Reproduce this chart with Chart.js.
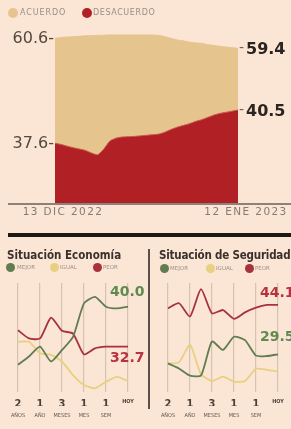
<!DOCTYPE html>
<html><head><meta charset="utf-8">
<script src="https://cdn.jsdelivr.net/npm/chart.js@4.4.1/dist/chart.umd.min.js"></script>
<style>
html,body{margin:0;padding:0;background:#fbe5d4;width:291px;height:429px;overflow:hidden;font-family:"DejaVu Sans",sans-serif}
#wrap{position:relative;width:291px;height:429px}
canvas{position:absolute}
.dot{position:absolute;border-radius:50%}
.lg{position:absolute;white-space:nowrap;color:#9a8f88;text-transform:uppercase}
.title{position:absolute;white-space:nowrap;font-family:"DejaVu Sans Condensed","Liberation Sans Narrow","DejaVu Sans",sans-serif;font-weight:bold;font-size:11.5px;color:#3b312c;line-height:14px}
</style>
</head><body><div id="wrap">
<canvas id="top" width="291" height="232" style="left:0;top:0"></canvas>
<canvas id="eco" width="148" height="150" style="left:0;top:275px"></canvas>
<canvas id="seg" width="141" height="150" style="left:150px;top:275px"></canvas>

<div class="dot" style="left:8px;top:8px;width:10px;height:10px;background:#e6c48e"></div>
<div class="lg" style="left:20px;top:7px;font-size:8px;letter-spacing:0.9px;line-height:12px">Acuerdo</div>
<div class="dot" style="left:82px;top:8px;width:10px;height:10px;background:#b02024"></div>
<div class="lg" style="left:93px;top:7px;font-size:8px;letter-spacing:0.6px;line-height:12px">Desacuerdo</div>

<div style="position:absolute;left:8px;top:203px;width:283px;height:2px;background:#8d827b"></div>
<div style="position:absolute;left:8px;top:233px;width:283px;height:4px;background:#1c1816"></div>
<div style="position:absolute;left:148px;top:249px;width:2px;height:160px;background:#5a504b"></div>

<div class="title" style="left:7px;top:248px">Situación Economía</div>
<div class="dot" style="left:6px;top:263px;width:9px;height:9px;background:#5f7d50"></div>
<div class="lg" style="left:17px;top:264px;font-size:5.5px;line-height:7px">Mejor</div>
<div class="dot" style="left:50px;top:263px;width:9px;height:9px;background:#e8d082"></div>
<div class="lg" style="left:60px;top:264px;font-size:5.5px;line-height:7px">Igual</div>
<div class="dot" style="left:93px;top:263px;width:9px;height:9px;background:#a8323c"></div>
<div class="lg" style="left:103px;top:264px;font-size:5.5px;line-height:7px">Peor</div>

<div class="title" style="left:159px;top:248px;letter-spacing:-0.2px">Situación de Seguridad</div>
<div class="dot" style="left:160px;top:264px;width:9px;height:9px;background:#5f7d50"></div>
<div class="lg" style="left:170px;top:265px;font-size:5.5px;line-height:7px">Mejor</div>
<div class="dot" style="left:206px;top:264px;width:9px;height:9px;background:#e8d082"></div>
<div class="lg" style="left:216px;top:265px;font-size:5.5px;line-height:7px">Igual</div>
<div class="dot" style="left:245px;top:264px;width:9px;height:9px;background:#a8323c"></div>
<div class="lg" style="left:255px;top:265px;font-size:5.5px;line-height:7px">Peor</div>
</div>
<script>
// ---- data: top chart (daily, 13 Dic 2022 - 12 Ene 2023) ----
const dates = ['13 DIC 2022','14 DIC','15 DIC','16 DIC','17 DIC','18 DIC','19 DIC','20 DIC','21 DIC','22 DIC','23 DIC','24 DIC','25 DIC','26 DIC','27 DIC','28 DIC','29 DIC','30 DIC','31 DIC','1 ENE','2 ENE','3 ENE','4 ENE','5 ENE','6 ENE','7 ENE','8 ENE','9 ENE','10 ENE','11 ENE','12 ENE 2023'];
const acuerdo = [60.6,60.7,60.75,60.8,60.85,60.9,60.92,60.95,60.97,61.0,61.0,61.0,61.0,61.0,61.0,61.0,61.0,60.95,60.8,60.6,60.4,60.3,60.15,60.05,60.0,59.85,59.75,59.65,59.55,59.48,59.4];
const desacuerdo = [37.6,37.5,37.35,37.22,37.1,36.98,36.75,36.6,37.1,37.8,38.05,38.15,38.18,38.2,38.25,38.3,38.35,38.4,38.57,38.8,39.0,39.15,39.3,39.5,39.65,39.85,40.05,40.2,40.3,40.4,40.5];

// ---- data: small charts ----
const periods = ['2 AÑOS','','1 AÑO','','3 MESES','','1 MES','','1 SEM','','HOY'];
const tickNumbers = ['2','','1','','3','','1','','1','','HOY'];
const tickUnits = ['AÑOS','','AÑO','','MESES','','MES','','SEM','',''];
const ecoMejor = [29.4,30.9,32.7,30.0,32.1,34.5,40.6,41.8,40.0,39.7,40.0];
const ecoIgual = [33.6,33.6,31.5,31.2,30.0,27.5,25.7,25.1,26.3,27.2,26.4];
const ecoPeor  = [35.7,34.2,34.2,38.0,35.6,35.1,31.3,32.4,32.7,32.7,32.7];
const segMejor = [26.8,25.3,23.2,23.2,33.3,30.8,34.7,33.7,29.1,29.0,29.5];
const segIgual = [26.8,27.1,32.3,23.6,21.6,22.9,21.4,21.6,25.2,24.9,24.4];
const segPeor  = [43.1,44.6,40.7,48.8,41.6,42.6,40.0,41.9,43.3,44.1,44.1];

const BEIGE='#e6c48e', RED='#b02024', GREEN='#5f7d50', YELLOW='#e8d082', LRED='#a8323c';

const spacing = {
  id:'spacing',
  beforeDraw(chart){ chart.ctx.letterSpacing='1.4px'; },
  beforeDatasetsDraw(chart){ chart.ctx.letterSpacing='0px'; }
};

const topLabels = {
  id:'topLabels',
  afterDatasetsDraw(chart){
    const ctx=chart.ctx, a=chart.chartArea;
    const yA=chart.scales.yA, yD=chart.scales.yD;
    const n=acuerdo.length-1;
    ctx.save();
    ctx.letterSpacing='0px';
    ctx.textBaseline='middle';
    ctx.font='16px "DejaVu Sans", sans-serif';
    ctx.fillStyle='#54493f';
    ctx.textAlign='right';
    ctx.fillText(acuerdo[0].toFixed(1)+'-', a.left-1, yA.getPixelForValue(acuerdo[0])+1);
    ctx.fillText(desacuerdo[0].toFixed(1)+'-', a.left-1, yD.getPixelForValue(desacuerdo[0])+1);
    ctx.textAlign='left';
    ctx.fillStyle='#6b615a';
    ctx.font='14px "DejaVu Sans", sans-serif';
    ctx.fillText('-', a.right+1, yA.getPixelForValue(acuerdo[n]));
    ctx.fillText('-', a.right+1, yD.getPixelForValue(desacuerdo[n]));
    ctx.fillStyle='#2b2420';
    ctx.font='bold 16px "DejaVu Sans", sans-serif';
    ctx.fillText(acuerdo[n].toFixed(1), a.right+8, yA.getPixelForValue(acuerdo[n])+2);
    ctx.fillText(desacuerdo[n].toFixed(1), a.right+8, yD.getPixelForValue(desacuerdo[n])+2);
    ctx.restore();
  }
};

new Chart(document.getElementById('top'), {
  type:'line',
  data:{labels:dates, datasets:[
    {label:'DESACUERDO', data:desacuerdo, yAxisID:'yD', backgroundColor:RED, borderColor:'#c9574f', borderWidth:1, fill:'start', pointRadius:0, tension:0.2},
    {label:'ACUERDO', data:acuerdo, yAxisID:'yA', backgroundColor:BEIGE, borderColor:BEIGE, borderWidth:1, fill:'start', pointRadius:0, tension:0.3}
  ]},
  options:{
    responsive:false, animation:false, events:[],
    layout:{padding:{left:55,right:53,top:30,bottom:6}},
    plugins:{legend:{display:false}, tooltip:{enabled:false}},
    scales:{
      x:{grid:{display:false, drawTicks:false}, border:{display:false},
         afterFit(s){s.height=23;},
         ticks:{autoSkip:false, maxRotation:0, padding:3, labelOffset:8, color:'#857b74',
           font:{family:'"DejaVu Sans", sans-serif', size:10.5},
           callback(v,i){return (i===0||i===dates.length-1)?dates[i]:'';}}},
      yA:{display:false, min:40.83, max:61.6},
      yD:{display:false, min:32.4, max:47.47}
    }
  },
  plugins:[spacing, topLabels]
});

function small(id, series, yMin, yMax, labels, padRight){
  const lblPlugin = {
    id:'vlabels',
    afterDatasetsDraw(chart){
      const ctx=chart.ctx, ys=chart.scales.y, xs=chart.scales.x;
      const lx = xs.getPixelForValue(periods.length-1) - 18;
      ctx.save();
      ctx.textAlign='left'; ctx.textBaseline='middle';
      ctx.font='bold 14px "DejaVu Sans", sans-serif';
      labels.forEach(l=>{
        const d=series[l.i];
        const v=d.data[d.data.length-1];
        ctx.fillStyle=l.color;
        ctx.fillText(v.toFixed(1), lx, ys.getPixelForValue(v)+l.dy);
      });
      ctx.restore();
    }
  };
  const cf='"DejaVu Sans Condensed","DejaVu Sans",sans-serif';
  new Chart(document.getElementById(id), {
    type:'line',
    data:{labels:periods, datasets:series.map(s=>({label:s.label, data:s.data, borderColor:s.color, borderWidth:1.8, pointRadius:0, fill:false, tension:0.2}))},
    options:{
      responsive:false, animation:false, events:[],
      layout:{padding:{left:18,right:padRight,top:8,bottom:8}},
      plugins:{legend:{display:false}, tooltip:{enabled:false}},
      scales:{
        x:{weight:0, border:{display:false},
           grid:{drawTicks:false, lineWidth:1.2, color:(c)=> (c.index%2===0)?'#d6c3b1':'rgba(0,0,0,0)'},
           afterFit(s){s.height=14;},
           ticks:{autoSkip:false, maxRotation:0, padding:6, color:'#4a3f39',
             font:(c)=> c.index===10 ? {family:cf, size:5.5, weight:'bold'} : {family:cf, size:11, weight:'bold'},
             callback(v,i){return tickNumbers[i];}}},
        x2:{type:'category', labels:periods, position:'bottom', weight:1, border:{display:false},
           grid:{display:false, drawTicks:false}, afterFit(s){s.height=11;},
           ticks:{autoSkip:false, maxRotation:0, padding:6, color:'#5e544e',
             font:{family:cf, size:5.5},
             callback(v,i){return tickUnits[i];}}},
        y:{display:false, min:yMin, max:yMax}
      }
    },
    plugins:[lblPlugin]
  });
}

small('eco', [
  {label:'MEJOR', data:ecoMejor, color:GREEN},
  {label:'IGUAL', data:ecoIgual, color:YELLOW},
  {label:'PEOR', data:ecoPeor, color:LRED}
], 24.43, 44.32, [{i:0,color:'#5e8a4f',dy:-14.5},{i:2,color:'#b8323f',dy:11.5}], 20);

small('seg', [
  {label:'MEJOR', data:segMejor, color:GREEN},
  {label:'IGUAL', data:segIgual, color:YELLOW},
  {label:'PEOR', data:segPeor, color:LRED}
], 18.34, 50.6, [{i:2,color:'#b8323f',dy:-12},{i:0,color:'#5e8a4f',dy:-16.5}], 13);
</script>
</body></html>
